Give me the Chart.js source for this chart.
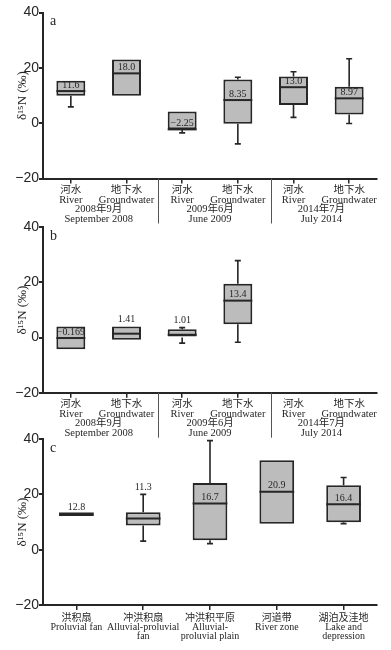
<!DOCTYPE html>
<html>
<head>
<meta charset="utf-8">
<script src="https://cdn.jsdelivr.net/npm/chart.js@4.4.0/dist/chart.umd.min.js"></script>
<style>
body { margin: 0; background: #fff; }
#wrap { position: relative; width: 391px; height: 650px; }
canvas { position: absolute; left: 0; }
</style>
</head>
<body>
<div id="wrap">
  <canvas id="ca" width="391" height="232" style="top:0px"></canvas>
  <canvas id="cb" width="391" height="225" style="top:215px"></canvas>
  <canvas id="cc" width="391" height="224" style="top:426px"></canvas>
</div>
<script>
// categories
var sampleLabels = [['河水', 'River'], ['地下水', 'Groundwater'], ['河水', 'River'], ['地下水', 'Groundwater'], ['河水', 'River'], ['地下水', 'Groundwater']];
var sampleGroups = [['2008年9月', 'September 2008'], ['2009年6月', 'June 2009'], ['2014年7月', 'July 2014']];
var zoneLabels = [['洪积扇', 'Proluvial fan'], ['冲洪积扇', 'Alluvial-proluvial', 'fan'], ['冲洪积平原', 'Alluvial-', 'proluvial plain'], ['河道带', 'River zone'], ['湖泊及洼地', 'Lake and', 'depression']];
var yTicks = [-20, 0, 20, 40];

// panel a : quartiles, median, whiskers
var aQ1 = [9.9, 9.9, -2.2, -0.2, 6.6, 3.1];
var aQ3 = [15.3, 23.0, 4.2, 15.8, 16.9, 13.2];
var aMed = [11.6, 18.0, -2.25, 8.35, 13.0, 8.97];
var aLow = [5.9, null, -3.5, -7.5, 2.1, -0.1];
var aHigh = [null, null, null, 16.6, 18.6, 23.3];
var aText = ['11.6', '18.0', '\u22122.25', '8.35', '13.0', '8.97'];

// panel b
var bQ1 = [-4.2, -0.8, 0.0, 4.85, null, null];
var bQ3 = [4.0, 4.0, 3.0, 19.5, null, null];
var bMed = [-0.169, 1.41, 1.01, 13.4, null, null];
var bLow = [null, null, -2.0, -1.7, null, null];
var bHigh = [null, null, 3.6, 27.9, null, null];
var bText = ['\u22120.169', '1.41', '1.01', '13.4', '', ''];

// panel c
var cQ1 = [12.8, 8.7, 3.4, 9.4, 9.9];
var cQ3 = [12.8, 13.5, 24.1, 32.3, 23.3];
var cMed = [12.8, 11.3, 16.7, 20.9, 16.4];
var cLow = [null, 3.1, 2.2, null, 9.4];
var cHigh = [null, 20.0, 39.4, null, 26.1];
var cText = ['12.8', '11.3', '16.7', '20.9', '16.4'];

var serif = '"Liberation Serif", "Noto Sans CJK SC", serif';
var ink = '#262626';

var boxExtras = {
  id: 'boxExtras',
  afterDatasetsDraw: function (chart) {
    var p = chart.options.plugins.boxExtras;
    var ctx = chart.ctx, xs = chart.scales.x, ys = chart.scales.y;
    var area = chart.chartArea;
    var meta = chart.getDatasetMeta(0);
    ctx.save();
    ctx.strokeStyle = ink;
    ctx.fillStyle = ink;
    meta.data.forEach(function (bar, i) {
      if (p.q1[i] == null) return;
      var cx = xs.getPixelForValue(i);
      var half = bar.width / 2;
      var yTop = ys.getPixelForValue(p.q3[i]);
      var yBot = ys.getPixelForValue(p.q1[i]);
      var yHi = yTop;
      ctx.lineWidth = 1.6;
      ctx.beginPath();
      if (p.high[i] != null) {
        yHi = ys.getPixelForValue(p.high[i]);
        ctx.moveTo(cx, yTop); ctx.lineTo(cx, yHi);
        ctx.moveTo(cx - 3, yHi); ctx.lineTo(cx + 3, yHi);
      }
      if (p.low[i] != null) {
        var yLo = ys.getPixelForValue(p.low[i]);
        ctx.moveTo(cx, yBot); ctx.lineTo(cx, yLo);
        ctx.moveTo(cx - 3, yLo); ctx.lineTo(cx + 3, yLo);
      }
      ctx.stroke();
      // median
      var ym = ys.getPixelForValue(p.med[i]);
      ctx.lineWidth = p.q1[i] === p.q3[i] ? 3.5 : 2;
      ctx.beginPath();
      ctx.moveTo(cx - half, ym); ctx.lineTo(cx + half, ym);
      ctx.stroke();
      // value label
      ctx.font = '10px ' + serif;
      ctx.textAlign = 'center';
      ctx.textBaseline = 'bottom';
      var ty = ym - 1;
      if (ym - yTop < 8) ty = Math.min(yTop, yHi) - 2;
      ctx.fillText(p.text[i], cx, ty);
    });
    // panel letter
    ctx.font = '14px ' + serif;
    ctx.textAlign = 'left';
    ctx.textBaseline = 'middle';
    ctx.fillText(p.letter, area.left + 7, area.top + 9);
    // sampling campaigns under the axis
    if (p.groups) {
      ctx.font = '10.5px ' + serif;
      ctx.textAlign = 'center';
      p.groups.forEach(function (g, k) {
        var gx = (xs.getPixelForValue(2 * k) + xs.getPixelForValue(2 * k + 1)) / 2;
        ctx.fillText(g[0], gx, area.bottom + 31);
        ctx.fillText(g[1], gx, area.bottom + 41);
      });
      ctx.strokeStyle = '#555';
      ctx.lineWidth = 1;
      [1.57, 3.6].forEach(function (v) {
        var sx = Math.round(xs.getPixelForValue(v)) + 0.5;
        ctx.beginPath();
        ctx.moveTo(sx, area.bottom);
        ctx.lineTo(sx, area.bottom + 45);
        ctx.stroke();
      });
    }
    ctx.restore();
  }
};

function makeChart(id, letter, labels, groups, q1, q3, med, low, high, text, padTop, xHeight, fontSize, lineH, labPad) {
  var boxes = labels.map(function (l, i) {
    return q1[i] == null ? null : [q1[i], q3[i]];
  });
  return new Chart(document.getElementById(id), {
    type: 'bar',
    data: {
      labels: labels,
      datasets: [{
        data: boxes,
        backgroundColor: '#bcbcbc',
        borderColor: ink,
        borderWidth: 2,
        borderSkipped: false,
        categoryPercentage: 1,
        barPercentage: 0.52
      }]
    },
    options: {
      responsive: false,
      animation: false,
      layout: { padding: { top: padTop, right: 14, left: 0, bottom: 0 } },
      plugins: {
        legend: { display: false },
        tooltip: { enabled: false },
        boxExtras: { letter: letter, groups: groups, q1: q1, q3: q3, med: med, low: low, high: high, text: text }
      },
      scales: {
        x: {
          offset: true,
          border: { color: ink, width: 2 },
          grid: {
            offset: false, drawOnChartArea: false, tickLength: 5, lineWidth: 1.5,
            // no tick where a category has no samples
            color: function (c) { return q1[c.index] == null ? 'rgba(0,0,0,0)' : ink; }
          },
          ticks: {
            autoSkip: false, maxRotation: 0, minRotation: 0, padding: labPad,
            color: ink, font: { family: serif, size: fontSize, lineHeight: lineH }
          },
          afterFit: function (s) { s.height = xHeight; }
        },
        y: {
          min: -20, max: 40,
          border: { color: ink, width: 2 },
          grid: { drawOnChartArea: false, tickLength: 4, color: ink, lineWidth: 2 },
          afterBuildTicks: function (s) { s.ticks = yTicks.map(function (v) { return { value: v }; }); },
          ticks: {
            padding: 0, color: ink,
            font: { family: '"Liberation Sans", Arial, sans-serif', size: 14 },
            callback: function (v) { return String(v).replace('-', '\u2212'); }
          },
          title: {
            display: true, text: 'δ¹⁵N (‰)', color: ink,
            font: { family: serif, size: 13 },
            padding: { top: 15, bottom: 0 }
          },
          afterFit: function (s) { s.width = 43; }
        }
      }
    },
    plugins: [boxExtras]
  });
}

makeChart('ca', 'a', sampleLabels, sampleGroups, aQ1, aQ3, aMed, aLow, aHigh, aText, 12.5, 53.5, 10.5, 0.93, 2);
makeChart('cb', 'b', sampleLabels, sampleGroups, bQ1, bQ3, bMed, bLow, bHigh, bText, 12.3, 47.3, 10.5, 0.93, 2);
makeChart('cc', 'c', zoneLabels, null, cQ1, cQ3, cMed, cLow, cHigh, cText, 13, 45, 10, 0.88, 4);
</script>
</body>
</html>
